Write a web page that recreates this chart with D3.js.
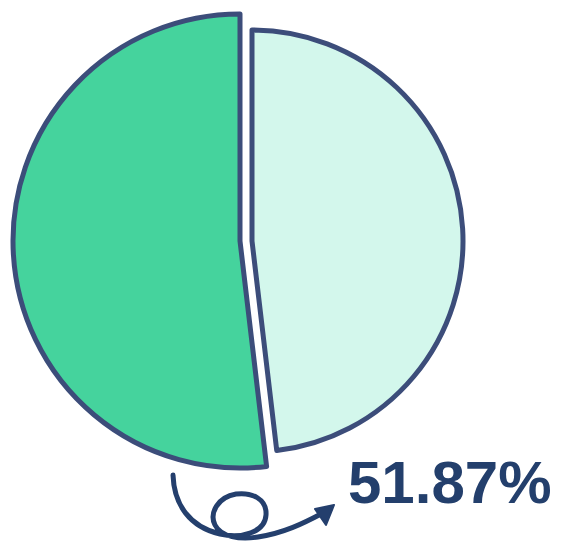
<!DOCTYPE html>
<html>
<head>
<meta charset="utf-8">
<script src="https://cdn.jsdelivr.net/npm/d3@7"></script>
<style>
  html, body { margin: 0; padding: 0; background: #ffffff; }
  svg { display: block; }
</style>
</head>
<body>
<div id="chart"></div>
<script>
// ---- data ----
const categories = ["Rest", "Highlighted"];
const values = [48.13, 51.87];
const labelText = ["51.87%"];

// ---- layout ----
const W = 561, H = 543;
const svg = d3.select("#chart").append("svg")
  .attr("width", W).attr("height", H);

const colors = d3.scaleOrdinal()
  .domain(categories)
  .range(["#d3f7ec", "#45d39d"]);

const outlineColor = "#3c4d7a";
const cx = 240, cy = 241;

const pie = d3.pie().sort(null).value(d => d.value);
const arcs = pie(categories.map((c, i) => ({ category: c, value: values[i] })));

// per-slice radius and offset (the lighter slice is slightly smaller and pulled apart)
const radius = d3.scaleOrdinal().domain(categories).range([211, 227]);
const offsetX = d3.scaleOrdinal().domain(categories).range([12, 0]);

const g = svg.append("g").attr("transform", `translate(${cx},${cy})`);

g.selectAll("path.slice")
  .data(arcs)
  .join("path")
  .attr("class", "slice")
  .attr("transform", d => `translate(${offsetX(d.data.category)},0)`)
  .attr("d", d => d3.arc().innerRadius(0).outerRadius(radius(d.data.category))(d))
  .attr("fill", d => colors(d.data.category))
  .attr("stroke", outlineColor)
  .attr("stroke-width", 5)
  .attr("stroke-linejoin", "round");

// curly arrow
const arrowColor = "#243f6d";
svg.append("path")
  .attr("d", "M173,475 C174,505 190,527 220,534 C242,539 265,532 266,515 C267,499 252,492 236,494 C218,497 209,513 215,525 C221,537 240,540 258,537 C284,533 304,523 321,514")
  .attr("fill", "none")
  .attr("stroke", arrowColor)
  .attr("stroke-width", 5)
  .attr("stroke-linecap", "round")
  .attr("stroke-linejoin", "round");
svg.append("path")
  .attr("d", "M334,505 L315,509 L326,525 Z")
  .attr("fill", arrowColor)
  .attr("stroke", arrowColor)
  .attr("stroke-width", 2)
  .attr("stroke-linejoin", "round");

// label
svg.append("text")
  .attr("x", 348)
  .attr("y", 503)
  .attr("font-family", "'Liberation Sans', Arial, sans-serif")
  .attr("font-weight", "bold")
  .attr("font-size", 60)
  .attr("fill", "#233f6c")
  .text(labelText[0]);
</script>
</body>
</html>
